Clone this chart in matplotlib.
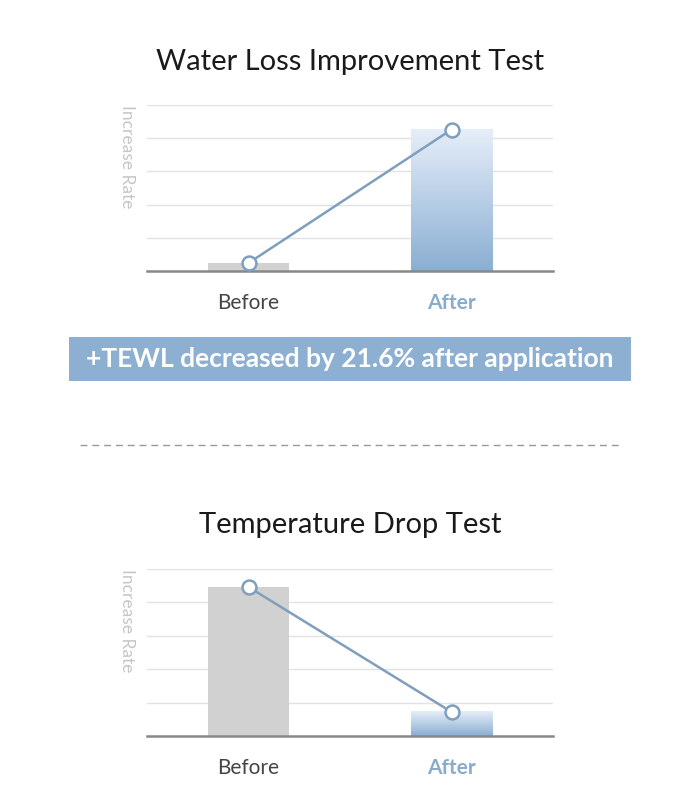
import numpy as np
import matplotlib
matplotlib.use('Agg')
import matplotlib.pyplot as plt
from matplotlib.colors import LinearSegmentedColormap
from matplotlib.lines import Line2D
from matplotlib.patches import Rectangle

plt.rcParams['font.family'] = ['Lato', 'DejaVu Sans']

categories = ['Before', 'After']
water_loss = [0.24, 4.26]
temp_drop = [4.46, 0.72]
titles = ['Water Loss Improvement Test', 'Temperature Drop Test']
banner_text = '+TEWL decreased by 21.6% after application'
y_label = 'Increase Rate'

GRAY_BAR = '#d1d1d1'
LINE_COL = '#7f9fbd'
BLUE_TXT = '#8aaccc'
BANNER = '#8db0d2'
grad = LinearSegmentedColormap.from_list('g', ['#8aaed3', '#e6eef9'])


def draw_chart(ax, values):
    x = np.arange(len(values))
    w = 0.4
    ax.bar(x[0], values[0], width=w, color=GRAY_BAR, zorder=2)
    # gradient bar for "After"
    g = np.linspace(0, 1, 256).reshape(-1, 1)
    ax.imshow(g, cmap=grad, origin='lower', aspect='auto', zorder=2,
              extent=[x[1] - w / 2, x[1] + w / 2, 0, values[1]])
    ax.set_xlim(-0.5, 1.5)
    ax.set_ylim(0, 5)
    ax.plot(x, values, color=LINE_COL, lw=1.8, marker='o', ms=10,
            mfc='white', mec=LINE_COL, mew=1.8, zorder=4)

    ax.set_yticks([1, 2, 3, 4, 5])
    ax.yaxis.grid(True, color='#e2e2e2', lw=1)
    ax.set_axisbelow(True)
    ax.tick_params(axis='y', length=0, labelleft=False)
    ax.set_xticks(x)
    ax.set_xticklabels(categories, fontsize=15)
    ax.tick_params(axis='x', length=0, pad=16)
    lbls = ax.get_xticklabels()
    lbls[0].set_color('#444444')
    lbls[1].set_color(BLUE_TXT)
    lbls[1].set_fontweight('bold')
    for s in ['top', 'right', 'left']:
        ax.spines[s].set_visible(False)
    ax.spines['bottom'].set_color('#888888')
    ax.spines['bottom'].set_linewidth(1.8)
    ax.text(-0.049, 1.0, y_label, transform=ax.transAxes, rotation=270,
            ha='center', va='top', fontsize=12.5, color='#c6c6c6')


fig = plt.figure(figsize=(7, 7.98), dpi=100, facecolor='white')

ax1 = fig.add_axes([0.21, 0.6604, 0.58, 0.208])
draw_chart(ax1, water_loss)
ax2 = fig.add_axes([0.21, 0.0777, 0.58, 0.2093])
draw_chart(ax2, temp_drop)

fig.text(0.5, 0.922, titles[0], ha='center', va='center', fontsize=21, color='#1a1a1a')
fig.text(0.5, 0.3425, titles[1], ha='center', va='center', fontsize=21, color='#1a1a1a')

fig.patches.append(Rectangle((0.0986, 0.5226), 0.803, 0.0551, transform=fig.transFigure,
                             facecolor=BANNER, edgecolor='none'))
fig.text(0.5, 0.5501, banner_text, ha='center', va='center', fontsize=19,
         color='white', fontweight='bold')

fig.lines.append(Line2D([0.114, 0.886], [0.4424, 0.4424], transform=fig.transFigure,
                        color='#999999', lw=1, dashes=(5, 3.5)))

fig.savefig('out.png', dpi=100, facecolor='white')
